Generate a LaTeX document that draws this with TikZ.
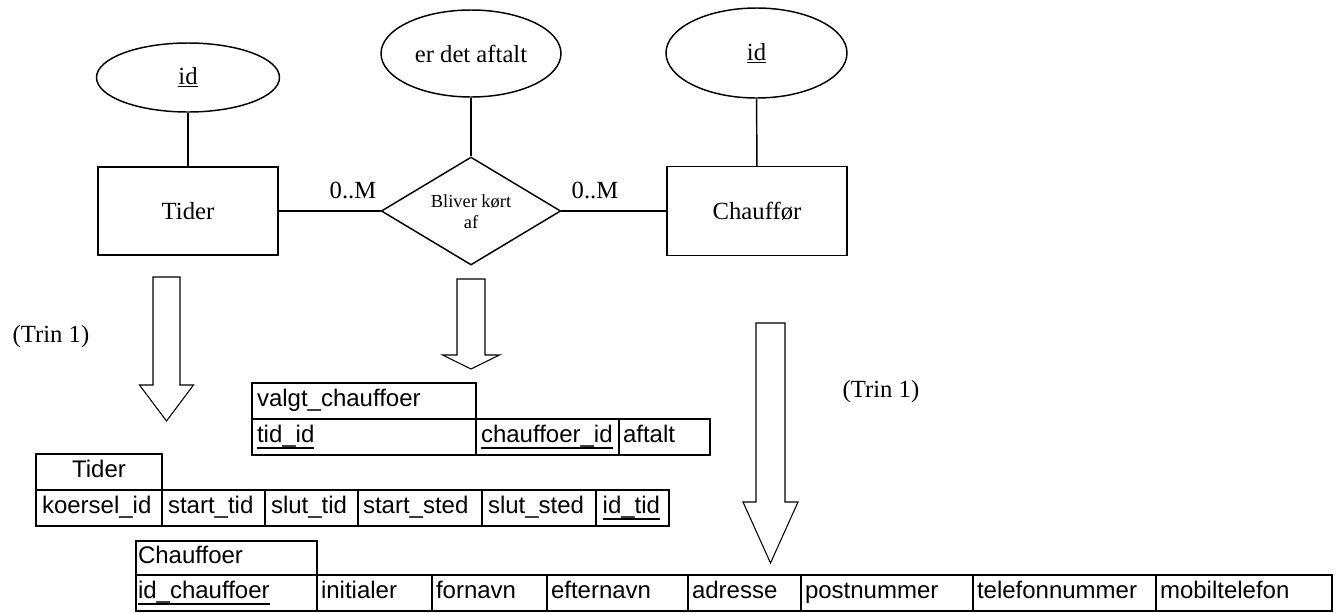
\documentclass[tikz,border=0pt]{standalone}
\usepackage{fontspec}
\setmainfont{Liberation Serif}
\newfontfamily\tablefont{Liberation Sans}
\usetikzlibrary{shapes.geometric}

% thick underline for key attributes in the relation tables
\newcommand\keyul[1]{\leavevmode\setbox0=\hbox{#1}\rlap{\rule[-5.2pt]{\wd0}{1.9pt}}\box0}

% one table cell: style, name, x1, x2, y1, y2, padding, text
\newcommand\tcell[8]{%
  \node[#1, minimum width={(#4-#3)*0.75pt}, minimum height={(#6-#5)*0.75pt},
        inner xsep=#7, text width={(#4-#3)*0.75pt-2*#7}]
        (#2) at ({(#3+#4)/2},{(#5+#6)/2}) {#8};}

% downward block arrow: x, half shaft, half head, top, head base, tip
\newcommand\blockdown[6]{%
  \draw[blockarrow] ({#1-#2},#4) -- ({#1+#2},#4) -- ({#1+#2},#5) -- ({#1+#3},#5)
    -- (#1,#6) -- ({#1-#3},#5) -- ({#1-#2},#5) -- cycle;}

\tikzset{
  er/.style={line width=1.1pt},
  attr/.style={draw, er, ellipse, inner sep=0pt, font=\fontsize{18.5}{22}\selectfont},
  entity/.style={draw, er, rectangle, inner sep=0pt, font=\fontsize{18.5}{22}\selectfont},
  relship/.style={draw, er, diamond, inner sep=0pt},
  erlabel/.style={inner sep=0pt, font=\fontsize{18.5}{22}\selectfont},
  blockarrow/.style={line width=0.8pt, line join=miter},
  tcellbase/.style={draw, inner ysep=0pt, text height=12.5pt, text depth=4.5pt,
    font=\fontsize{18}{20}\tablefont},
  bold cell/.style={tcellbase, line width=1.9pt, align=left},
  bold head/.style={tcellbase, line width=1.9pt, align=center},
  thin cell/.style={tcellbase, line width=1.4pt, align=left},
}

\begin{document}
\begin{tikzpicture}[x=0.75pt, y=-0.75pt]
\fill[white] (0,0) rectangle (1343,612);
\useasboundingbox (0,0) rectangle (1343,612);

% ---------- ER diagram ----------
\node[attr, minimum width={183*0.75pt}, minimum height={69*0.75pt}] (idT) at (188,77.5) {\underline{id}};
\node[attr, minimum width={180*0.75pt}, minimum height={87*0.75pt}] (aft) at (471,53.5) {er det aftalt};
\node[attr, minimum width={181*0.75pt}, minimum height={90*0.75pt}] (idC) at (756.5,53) {\underline{id}};

\node[entity, minimum width={180*0.75pt}, minimum height={88*0.75pt}] (tider) at (188,211) {Tider};
\node[entity, minimum width={180*0.75pt}, minimum height={89*0.75pt}] (chf) at (757,211) {Chauffør};

\node[relship, minimum width={179.5*0.75pt}, minimum height={108*0.75pt}] (rel) at (471,211) {};
\node[inner sep=0pt, align=center, font=\fontsize{13.8}{15.8}\selectfont] (reltext) at (471,212) {Bliver kørt\\af};

\draw[er] (idT) -- (tider);
\draw[er] (aft) -- (rel);
\draw[er] (idC) -- (chf);
\draw[er] (tider) -- (rel);
\draw[er] (rel) -- (chf);

\node[erlabel] (cardL) at (353,190) {0..M};
\node[erlabel] (cardR) at (595,190) {0..M};

% ---------- step labels and block arrows ----------
\node[erlabel] (trinL) at (51,337) {(Trin 1)};
\node[erlabel] (trinR) at (881,392) {(Trin 1)};

\blockdown{166.5}{13.5}{27}{277}{385}{421}
\blockdown{471}{14}{28.5}{279}{355}{369}
\blockdown{770.5}{14.5}{27.5}{323}{502}{563}

% ---------- relation valgt_chauffoer ----------
\tcell{bold cell}{vH}{252}{476}{383}{419}{3.75pt}{valgt\_chauffoer}
\tcell{bold cell}{vA}{252}{476}{419}{455}{3.75pt}{\keyul{tid\_id}}
\tcell{bold cell}{vB}{476}{619}{419}{455}{3.75pt}{\keyul{chauffoer\_id}}
\tcell{bold cell}{vC}{619}{710}{419}{455}{3pt}{aftalt}

% ---------- relation Tider ----------
\tcell{bold head}{tH}{36}{162}{454}{490}{3pt}{Tider}
\tcell{bold cell}{tA}{36}{162}{490}{526}{4.5pt}{koersel\_id}
\tcell{bold cell}{tB}{162}{265}{490}{526}{4.5pt}{start\_tid}
\tcell{bold cell}{tC}{265}{358}{490}{526}{4.5pt}{slut\_tid}
\tcell{bold cell}{tD}{358}{482}{490}{526}{3.75pt}{start\_sted}
\tcell{bold cell}{tE}{482}{596}{490}{526}{4.5pt}{slut\_sted}
\tcell{bold cell}{tF}{596}{669}{490}{526}{5pt}{\keyul{id\_tid}}

% ---------- relation Chauffoer ----------
\tcell{thin cell}{cH}{136}{317}{541}{575}{1.5pt}{Chauffoer}
\tcell{thin cell}{cA}{136}{317}{575}{611}{1.5pt}{\keyul{id\_chauffoer}}
\tcell{thin cell}{cB}{317}{432}{575}{611}{3pt}{initialer}
\tcell{thin cell}{cC}{432}{547}{575}{611}{3pt}{fornavn}
\tcell{thin cell}{cD}{547}{688}{575}{611}{3pt}{efternavn}
\tcell{thin cell}{cE}{688}{801}{575}{611}{3pt}{adresse}
\tcell{thin cell}{cF}{801}{973}{575}{611}{3pt}{postnummer}
\tcell{thin cell}{cG}{973}{1156}{575}{611}{3pt}{telefonnummer}
\tcell{thin cell}{cI}{1156}{1332}{575}{611}{3pt}{mobiltelefon}
\end{tikzpicture}
\end{document}
